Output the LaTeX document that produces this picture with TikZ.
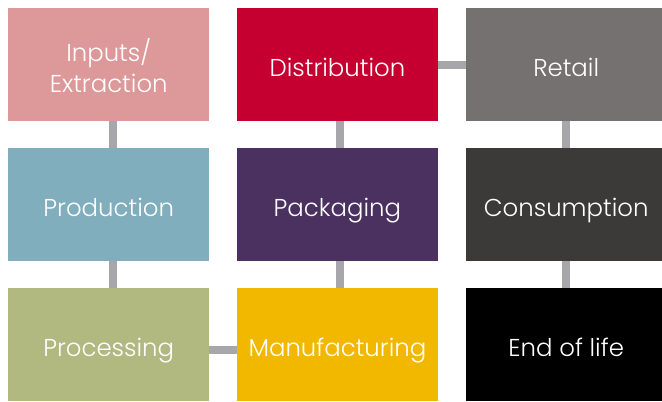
\documentclass[tikz,border=0pt]{standalone}
\usepackage{fontspec}
\setmainfont{Poppins Light}
\usetikzlibrary{positioning}

\definecolor{inputscol}{HTML}{DD9999}
\definecolor{distribcol}{HTML}{C50030}
\definecolor{retailcol}{HTML}{757170}
\definecolor{prodcol}{HTML}{80AEBD}
\definecolor{packcol}{HTML}{4B3160}
\definecolor{consumcol}{HTML}{3B3A39}
\definecolor{processcol}{HTML}{B1B981}
\definecolor{manufcol}{HTML}{F2B800}
\definecolor{endcol}{HTML}{000000}
\definecolor{linkgray}{HTML}{A7A7AB}

\begin{document}
\begin{tikzpicture}[x=1bp,y=-1bp,
  stage/.style={rectangle,anchor=north west,inner sep=0pt,
    minimum width=201bp,minimum height=112.7bp,
    text height=24.5bp,text depth=0pt,
    text=white,align=center,font=\fontsize{24.5}{31}\selectfont},
  link/.style={draw=linkgray,line width=8bp}]

\useasboundingbox (0,0) rectangle (662,401);

%Columns and rows
\def\colA{8}
\def\colB{236.7}
\def\colC{465.5}
\def\rowA{8}
\def\rowB{147.7}
\def\rowC{287.7}

%Drawing stages
\node[stage,fill=inputscol,text height=55.5bp] (inputs) at (\colA,\rowA) {Inputs/\\Extraction};
\node[stage,fill=prodcol]    (prod)     at (\colA,\rowB) {Production};
\node[stage,fill=processcol] (process)  at (\colA,\rowC) {Processing};

\node[stage,fill=distribcol] (distrib)  at (\colB,\rowA) {Distribution};
\node[stage,fill=packcol]    (pack)     at (\colB,\rowB) {Packaging};
\node[stage,fill=manufcol]   (manuf)    at (\colB,\rowC) {Manufacturing};

\node[stage,fill=retailcol]  (retail)   at (\colC,\rowA) {Retail};
\node[stage,fill=consumcol]  (consum)   at (\colC,\rowB) {Consumption};
\node[stage,fill=endcol]     (endlife)  at (\colC,\rowC) {End of life};

%Drawing links
\draw[link] ([xshift=4.5bp]inputs.south) -- ([xshift=4.5bp]prod.north);
\draw[link] ([xshift=4.5bp]prod.south) -- ([xshift=4.5bp]process.north);
\draw[link] ([yshift=-5.7bp]process.east) -- ([yshift=-5.7bp]manuf.west);
\draw[link] ([xshift=2.5bp]manuf.north) -- ([xshift=2.5bp]pack.south);
\draw[link] ([xshift=2.5bp]pack.north) -- ([xshift=2.5bp]distrib.south);
\draw[link] (distrib.east) -- (retail.west);
\draw[link] (retail.south) -- (consum.north);
\draw[link] (consum.south) -- (endlife.north);
\end{tikzpicture}
\end{document}
